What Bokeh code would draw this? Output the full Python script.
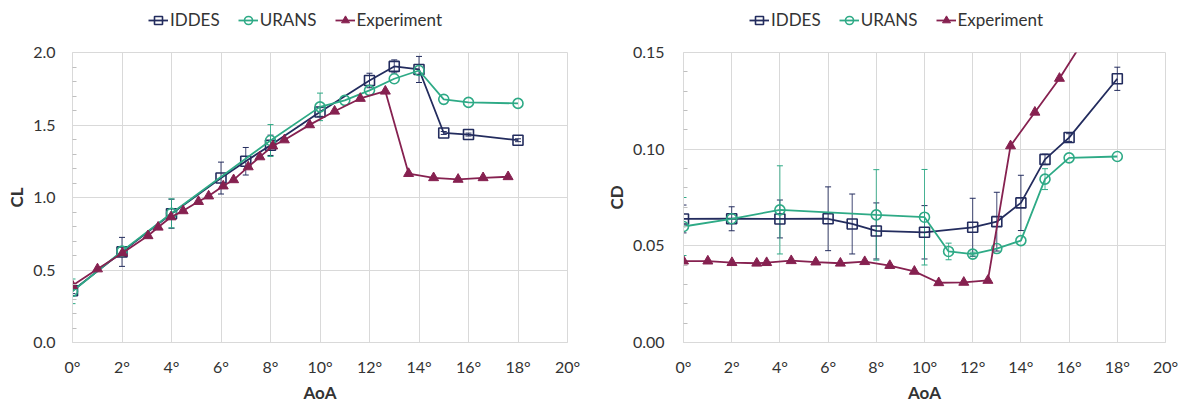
from bokeh.plotting import figure
from bokeh.models import (Range1d, FixedTicker, ColumnDataSource, Whisker, TeeHead,
                          Legend, LegendItem)
from bokeh.layouts import row, column
from bokeh.embed import file_html
from bokeh.resources import INLINE

# ---------------- data ----------------
aoa_ticks = [0, 2, 4, 6, 8, 10, 12, 14, 16, 18, 20]
aoa_tick_labels = ["0°", "2°", "4°", "6°", "8°", "10°", "12°", "14°", "16°", "18°", "20°"]

cl_ticks = [0.0, 0.5, 1.0, 1.5, 2.0]
cl_tick_labels = ["0.0", "0.5", "1.0", "1.5", "2.0"]
cl_minor = [0.1, 0.2, 0.3, 0.4, 0.6, 0.7, 0.8, 0.9, 1.1, 1.2, 1.3, 1.4, 1.6, 1.7, 1.8, 1.9]

cd_ticks = [0.0, 0.05, 0.10, 0.15]
cd_tick_labels = ["0.00", "0.05", "0.10", "0.15"]
cd_minor = [0.01, 0.02, 0.03, 0.04, 0.06, 0.07, 0.08, 0.09, 0.11, 0.12, 0.13, 0.14]

series_names = ["IDDES", "URANS", "Experiment"]

iddes_aoa = [0, 2, 4, 6, 7, 8, 10, 12, 13, 14, 15, 16, 18]
iddes_cl = [0.357, 0.625, 0.888, 1.134, 1.25, 1.36, 1.59, 1.807, 1.904, 1.883, 1.445, 1.434, 1.395]
iddes_cl_err = [0.02, 0.10, 0.10, 0.11, 0.095, 0.07, 0.03, 0.05, 0.045, 0.09, 0.01, 0.01, 0.01]
iddes_cd = [0.0639, 0.0640, 0.0639, 0.0640, 0.0613, 0.0577, 0.0570, 0.0596, 0.0625, 0.0722, 0.0947, 0.1060, 0.1364]
iddes_cd_err = [0.0072, 0.0062, 0.0098, 0.0165, 0.0155, 0.0145, 0.0138, 0.0150, 0.0152, 0.0143, 0.0027, 0.0020, 0.0060]

urans_aoa = [0, 2, 4, 8, 10, 11, 12, 13, 14, 15, 16, 18]
urans_cl = [0.353, 0.63, 0.891, 1.393, 1.625, 1.67, 1.739, 1.819, 1.876, 1.677, 1.656, 1.649]
urans_cl_err = [0.085, 0.0, 0.10, 0.11, 0.095, 0.0, 0.0, 0.0, 0.0, 0.0, 0.0, 0.0]
urans_cd = [0.0600, 0.0640, 0.0686, 0.0660, 0.0648, 0.0471, 0.0457, 0.0486, 0.0527, 0.0845, 0.0955, 0.0962]
urans_cd_err = [0.0150, 0.0, 0.0228, 0.0234, 0.0247, 0.0043, 0.0010, 0.0, 0.0, 0.0054, 0.0, 0.0]

exp_cl_aoa = [0, 1.01, 2.02, 3.05, 3.46, 3.98, 4.47, 5.09, 5.50, 6.09, 6.51, 7.10, 7.57, 8.09,
              8.56, 9.58, 10.59, 11.63, 12.64, 13.58, 14.59, 15.58, 16.59, 17.60]
exp_cl = [0.393, 0.507, 0.617, 0.736, 0.795, 0.866, 0.908, 0.972, 1.010, 1.079, 1.122, 1.211,
          1.280, 1.355, 1.397, 1.501, 1.595, 1.683, 1.733, 1.165, 1.136, 1.125, 1.136, 1.143]

exp_cd_aoa = [0, 1.01, 2.01, 3.04, 3.45, 4.47, 5.49, 6.51, 7.52, 8.56, 9.58, 10.59, 11.63,
              12.63, 13.57, 14.58, 15.60, 16.59]
exp_cd = [0.0421, 0.0421, 0.0413, 0.0410, 0.0413, 0.0423, 0.0416, 0.0410, 0.0418, 0.0398,
          0.0368, 0.0309, 0.0311, 0.0321, 0.1017, 0.1191, 0.1366, 0.1560]

C_IDDES = "#232c5e"
C_URANS = "#2eaa86"
C_EXP = "#862150"
COLORS = [C_IDDES, C_URANS, C_EXP]
MARKERS = ["square", "circle", "triangle"]
GRID = "#d9d9d9"
TXT = "#333333"
FONT = "Lato"
LEG_H = 40
NAN = float("nan")


def add_series(p, xs, ys, color, marker):
    src = ColumnDataSource(dict(x=xs, y=ys))
    ln = p.line("x", "y", source=src, line_color=color, line_width=1.8)
    if marker == "triangle":
        sc = p.scatter("x", "y", source=src, marker="triangle", size=10,
                       fill_color=color, line_color=color, line_width=1)
    else:
        sc = p.scatter("x", "y", source=src, marker=marker, size=10,
                       fill_color=None, line_color=color, line_width=1.6)
    return ln, sc


def make_legend_fig(width, legend_x):
    lf = figure(width=width, height=LEG_H, output_backend="svg", toolbar_location=None,
                x_range=Range1d(0, 1), y_range=Range1d(0, 1),
                min_border_left=0, min_border_right=0, min_border_top=0, min_border_bottom=0)
    lf.axis.visible = False
    lf.grid.visible = False
    lf.outline_line_color = None
    items = []
    for name, color, marker in zip(series_names, COLORS, MARKERS):
        # placeholder renderers (no visible point) so the legend can draw its keys
        ln, sc = add_series(lf, [NAN], [NAN], color, marker)
        items.append(LegendItem(label=name, renderers=[ln, sc]))
    legend = Legend(items=items, orientation="horizontal", location=(legend_x, 10),
                    label_text_font=FONT, label_text_font_size="17px",
                    label_text_color=TXT, glyph_width=20, glyph_height=20,
                    label_height=20, label_standoff=2, spacing=18, padding=0, margin=0,
                    border_line_color=None, background_fill_alpha=0)
    lf.add_layout(legend, "center")
    return lf


def make_panel(ylabel, y_end, yticks, ylabels, yminor, series, width, border_left,
               frame_w, ytick_standoff):
    border_right = width - border_left - frame_w
    p = figure(width=width, height=405 - LEG_H, output_backend="svg", toolbar_location=None,
               x_range=Range1d(0, 20), y_range=Range1d(0, y_end),
               min_border_left=border_left, min_border_right=border_right,
               min_border_top=52 - LEG_H, min_border_bottom=62)
    p.outline_line_color = GRID
    p.background_fill_color = "white"
    p.border_fill_color = "white"

    p.xaxis.ticker = FixedTicker(ticks=aoa_ticks)
    p.xaxis.major_label_overrides = {t: l for t, l in zip(aoa_ticks, aoa_tick_labels)}
    p.yaxis.ticker = FixedTicker(ticks=yticks, minor_ticks=yminor)
    p.yaxis.major_label_overrides = {t: l for t, l in zip(yticks, ylabels)}

    for ax in (p.xaxis[0], p.yaxis[0]):
        ax.axis_line_color = GRID
        ax.major_tick_in = 0
        ax.major_tick_out = 0
        ax.major_label_text_font = FONT
        ax.major_label_text_font_size = "16px"
        ax.major_label_text_color = TXT
        ax.axis_label_text_font = FONT
        ax.axis_label_text_font_size = "17px"
        ax.axis_label_text_font_style = "bold"
        ax.axis_label_text_color = TXT
    p.xaxis.minor_tick_line_color = None
    p.yaxis.minor_tick_in = 4
    p.yaxis.minor_tick_out = 0
    p.yaxis.minor_tick_line_color = "#bfbfbf"
    p.xaxis.axis_label = "AoA"
    p.yaxis.axis_label = ylabel
    p.xaxis.major_label_standoff = 14
    p.xaxis.axis_label_standoff = 3
    p.yaxis.major_label_standoff = ytick_standoff
    p.yaxis.axis_label_standoff = 3

    p.xgrid.grid_line_color = GRID
    p.ygrid.grid_line_color = GRID
    p.xgrid.grid_line_width = 1
    p.ygrid.grid_line_width = 1

    for (xs, ys, errs), color, marker in zip(series, COLORS, MARKERS):
        if errs is not None:
            bx, up, lo = [], [], []
            for x, y, e in zip(xs, ys, errs):
                if e > 0:
                    bx.append(x)
                    up.append(y + e)
                    lo.append(y - e)
            wsrc = ColumnDataSource(dict(base=bx, upper=up, lower=lo))
            w = Whisker(source=wsrc, base="base", upper="upper", lower="lower",
                        line_color=color, line_width=1, line_alpha=0.85,
                        upper_head=TeeHead(size=6, line_color=color, line_width=1),
                        lower_head=TeeHead(size=6, line_color=color, line_width=1))
            p.add_layout(w)
        add_series(p, xs, ys, color, marker)
    return p


p1 = make_panel("CL", 2.0, cl_ticks, cl_tick_labels, cl_minor,
                [(iddes_aoa, iddes_cl, iddes_cl_err),
                 (urans_aoa, urans_cl, urans_cl_err),
                 (exp_cl_aoa, exp_cl, None)],
                width=600, border_left=72, frame_w=495, ytick_standoff=17)
l1 = make_legend_fig(600, 76)

p2 = make_panel("CD", 0.15, cd_ticks, cd_tick_labels, cd_minor,
                [(iddes_aoa, iddes_cd, iddes_cd_err),
                 (urans_aoa, urans_cd, urans_cd_err),
                 (exp_cd_aoa, exp_cd, None)],
                width=582, border_left=83, frame_w=482, ytick_standoff=19)
l2 = make_legend_fig(582, 66)

layout = row(column(l1, p1), column(l2, p2))
open("out.html", "w").write(file_html(layout, INLINE))
